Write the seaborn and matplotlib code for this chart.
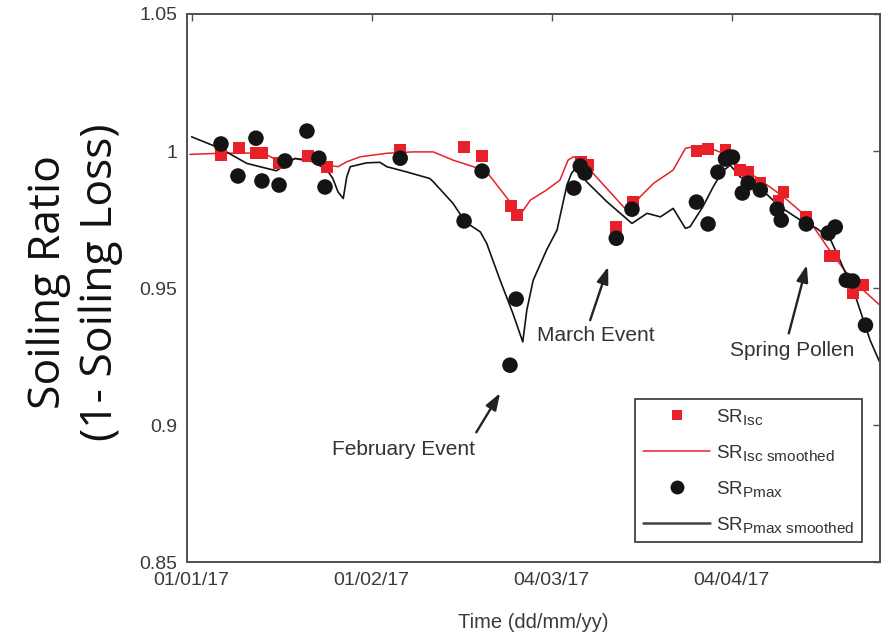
import matplotlib
matplotlib.use("Agg")
import matplotlib.pyplot as plt
import seaborn as sns
import pandas as pd
from matplotlib.lines import Line2D

try:
    import matplotlib._mathtext as _mt
    _mt.SHRINK_FACTOR = 0.82
except Exception:
    pass

# ---------------- data (days since 01/01/17) ----------------
isc_days = [5.05, 8.15, 11.07, 12.1, 15.05, 20.0, 23.3, 35.9, 46.9, 50.0, 55.0, 56.0,
            67.05, 68.25, 73.1, 76.0, 86.9, 88.9, 91.9, 94.4, 95.8, 97.9, 101.0, 101.9,
            105.8, 109.9, 110.6, 113.0, 113.8, 115.6]
isc_vals = [0.9985, 1.0011, 0.9993, 0.9993, 0.9956, 0.9982, 0.9942, 1.0004, 1.0015, 0.9982,
            0.9799, 0.9766, 0.9960, 0.9949, 0.9723, 0.9814, 1.0000, 1.0007, 1.0004, 0.9931,
            0.9923, 0.9883, 0.9818, 0.9850, 0.9759, 0.9617, 0.9617, 0.9526, 0.9482, 0.9511]

pmax_days = [5.05, 7.97, 11.07, 12.1, 15.05, 16.07, 19.85, 21.9, 22.96, 35.9, 46.9, 50.0,
             54.8, 55.86, 65.8, 66.9, 67.7, 73.1, 75.8, 86.9, 88.9, 90.6, 91.9, 92.5, 93.1,
             94.8, 95.8, 97.9, 100.8, 101.5, 105.8, 109.6, 110.8, 112.7, 113.8, 116.0]
pmax_vals = [1.0026, 0.9909, 1.0047, 0.9891, 0.9876, 0.9964, 1.0073, 0.9974, 0.9869, 0.9974,
             0.9745, 0.9927, 0.9219, 0.9460, 0.9865, 0.9945, 0.9920, 0.9682, 0.9788, 0.9814,
             0.9734, 0.9923, 0.9971, 0.9978, 0.9978, 0.9847, 0.9883, 0.9858, 0.9788, 0.9748,
             0.9734, 0.9701, 0.9723, 0.9529, 0.9526, 0.9365]

isc_smooth_days = [-0.3, 4.9, 12.3, 15.2, 17.8, 20.9, 23.3, 25.2, 26.7, 29.0, 33.6, 38.1,
                   41.6, 45.0, 48.5, 50.8, 54.8, 56.5, 58.3, 61.1, 63.4, 64.8, 65.7, 67.4,
                   69.1, 73.8, 75.2, 77.2, 79.5, 82.9, 85.0, 86.4, 89.3, 91.5, 94.4, 97.9,
                   101.9, 105.9, 109.4, 112.8, 115.6, 118.8]
isc_smooth_vals = [0.9988, 0.9992, 0.9993, 0.9961, 0.9973, 0.9967, 0.9949, 0.9943, 0.9961,
                   0.9979, 0.9992, 0.9997, 0.9997, 0.9967, 0.9943, 0.9924, 0.9815, 0.9766,
                   0.9821, 0.9858, 0.9894, 0.9967, 0.9979, 0.9973, 0.9919, 0.9809, 0.9778,
                   0.9833, 0.9882, 0.9931, 1.0010, 1.0016, 1.0010, 0.9992, 0.9943, 0.9894,
                   0.9833, 0.9760, 0.9651, 0.9554, 0.9493, 0.9432]

pmax_smooth_days = [0.0, 4.9, 9.5, 14.6, 16.4, 17.8, 20.9, 23.3, 24.3, 25.2, 26.1, 26.7,
                    27.3, 30.1, 32.4, 33.6, 37.0, 41.0, 41.6, 45.0, 47.1, 49.7, 50.8, 53.1,
                    55.3, 57.0, 57.7, 58.8, 61.1, 62.9, 64.6, 65.4, 66.3, 68.0, 71.5, 75.8,
                    78.4, 80.7, 82.9, 85.0, 85.8, 88.0, 89.8, 91.3, 92.7, 94.4, 97.9, 101.3,
                    104.8, 107.6, 109.9, 111.6, 113.1, 114.5, 116.8, 118.8]
pmax_smooth_vals = [1.0052, 1.0010, 0.9955, 0.9928, 0.9955, 0.9973, 0.9961, 0.9931, 0.9900,
                    0.9851, 0.9827, 0.9906, 0.9943, 0.9957, 0.9959, 0.9943, 0.9924, 0.9900,
                    0.9888, 0.9809, 0.9742, 0.9705, 0.9663, 0.9529, 0.9408, 0.9304, 0.9420,
                    0.9529, 0.9639, 0.9712, 0.9876, 0.9919, 0.9943, 0.9888, 0.9815, 0.9736,
                    0.9773, 0.9760, 0.9791, 0.9718, 0.9724, 0.9797, 0.9870, 0.9924, 0.9949,
                    0.9906, 0.9864, 0.9797, 0.9748, 0.9718, 0.9681, 0.9602, 0.9529, 0.9456,
                    0.9310, 0.9213]

xtick_pos = [0, 31, 62, 93]
xtick_labels = ["01/01/17", "01/02/17", "04/03/17", "04/04/17"]
ytick_pos = [0.85, 0.9, 0.95, 1.0, 1.05]
ytick_labels = ["0.85", "0.9", "0.95", "1", "1.05"]

events = ["February Event", "March Event", "Spring Pollen"]
event_text_xy = [(36.5, 0.8912), (69.6, 0.9328), (103.4, 0.9274)]
event_tail_xy = [(49.0, 0.8974), (68.6, 0.9383), (102.8, 0.9335)]
event_head_xy = [(53.1, 0.9117), (71.7, 0.9578), (105.9, 0.9584)]

# ---------------- plot ----------------
sns.set_style("white")
plt.rcParams['font.family'] = ['Liberation Sans', 'DejaVu Sans']
plt.rcParams['mathtext.fontset'] = 'custom'
plt.rcParams['mathtext.rm'] = 'Liberation Sans'
plt.rcParams['mathtext.it'] = 'Liberation Sans'

RED = '#e8202a'
BLK = '#141414'
GRAY = '#505050'

fig = plt.figure(figsize=(8.83, 6.39), dpi=100)
ax = fig.add_axes([187/883, 1-562.3/639, (880-187)/883, (562.3-14)/639])

df_isc = pd.DataFrame({"day": isc_days, "val": isc_vals})
df_pmax = pd.DataFrame({"day": pmax_days, "val": pmax_vals})
df_isc_s = pd.DataFrame({"day": isc_smooth_days, "val": isc_smooth_vals})
df_pmax_s = pd.DataFrame({"day": pmax_smooth_days, "val": pmax_smooth_vals})

sns.lineplot(data=df_isc_s, x="day", y="val", ax=ax, color=RED, lw=1.1,
             sort=False, estimator=None, zorder=2)
sns.lineplot(data=df_pmax_s, x="day", y="val", ax=ax, color=BLK, lw=1.2,
             sort=False, estimator=None, zorder=2)
sns.scatterplot(data=df_isc, x="day", y="val", ax=ax, color=RED, marker='s', s=70,
                edgecolor='none', zorder=3)
sns.scatterplot(data=df_pmax, x="day", y="val", ax=ax, color=BLK, marker='o', s=125,
                edgecolor='none', zorder=4)

ax.set_xlim(-0.8, 118.5)
ax.set_ylim(0.85, 1.05)
ax.set_xticks(xtick_pos)
ax.set_xticklabels(xtick_labels)
ax.set_yticks(ytick_pos)
ax.set_yticklabels(ytick_labels)
ax.tick_params(direction='in', length=5, width=1, colors=GRAY, labelcolor='#3a3a3a',
               labelsize=14, top=True, right=True, pad=7)
for sp in ax.spines.values():
    sp.set_visible(True)
    sp.set_color(GRAY)
    sp.set_linewidth(1.4)

ax.set_xlabel("Time (dd/mm/yy)", fontsize=14.5, color='#3a3a3a', labelpad=17)
ax.set_ylabel("Soiling Ratio\n(1- Soiling Loss)", fontsize=32, color='#111111',
              family=['Open Sans', 'DejaVu Sans'], linespacing=1.2)
ax.yaxis.set_label_coords(-0.093, 0.511)

for name, txy, tail, head in zip(events, event_text_xy, event_tail_xy, event_head_xy):
    ax.annotate('', xy=head, xytext=tail,
                arrowprops=dict(arrowstyle='-|>,head_length=1.0,head_width=0.35',
                                color='#222222', lw=1.7, shrinkA=0, shrinkB=0))
    ax.text(txy[0], txy[1], name, fontsize=15, color='#333333', ha='center', va='center')

handles = [
    Line2D([], [], color=RED, marker='s', ls='none', markersize=7, markeredgewidth=0),
    Line2D([], [], color=RED, lw=1.1),
    Line2D([], [], color=BLK, marker='o', ls='none', markersize=10, markeredgewidth=0),
    Line2D([], [], color='#444444', lw=1.8),
]
labels = [r'SR$_{\mathregular{Isc}}$', r'SR$_{\mathregular{Isc\ smoothed}}$',
          r'SR$_{\mathregular{Pmax}}$', r'SR$_{\mathregular{Pmax\ smoothed}}$']
if ax.get_legend() is not None:
    ax.get_legend().remove()
leg = ax.legend(handles, labels, loc='lower right', bbox_to_anchor=(0.974, 0.037),
                fontsize=13.5, frameon=True, fancybox=False, framealpha=1,
                edgecolor='#333333', handlelength=3.6, handletextpad=0.3,
                borderpad=0.4, labelspacing=0.85, borderaxespad=0)
leg.get_frame().set_linewidth(1.2)
for t in leg.get_texts():
    t.set_color('#333333')

fig.savefig("out.png", dpi=100)
